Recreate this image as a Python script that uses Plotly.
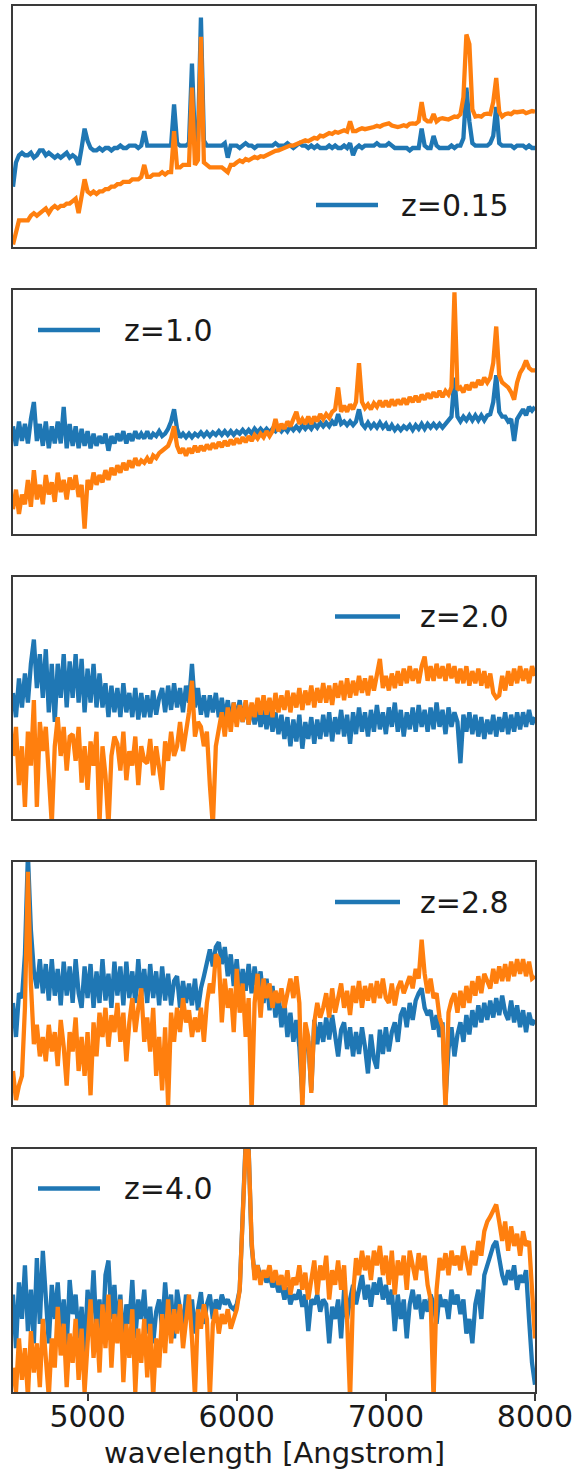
import plotly.graph_objects as go

# Shared wavelength grid (Angstrom) and per-panel flux values (in % of panel height)
WAVELENGTH = list(range(4500, 8001, 20))
LABELS = ["z=0.15", "z=1.0", "z=2.0", "z=2.8", "z=4.0"]
X_TICKS = [5000, 6000, 7000, 8000]
X_TITLE = "wavelength [Angstrom]"

P1_BLUE = [
    25, 35, 38, 39, 38,
    38, 39, 37, 38, 40,
    40, 38, 39, 38, 37,
    38, 37, 38, 39, 37,
    38, 37, 34, 41, 49,
    44, 41, 40, 40, 41,
    40, 41, 41, 40, 41,
    41, 42, 41, 41, 42,
    42, 42, 41, 42, 48,
    42, 42, 42, 42, 42,
    42, 42, 42, 42, 59,
    43, 42, 42, 42, 43,
    76, 43, 44, 95, 44,
    42, 42, 42, 42, 42,
    42, 43, 37, 42, 42,
    42, 41, 42, 43, 42,
    42, 41, 42, 42, 42,
    42, 42, 42, 43, 42,
    42, 42, 43, 42, 41,
    42, 43, 42, 42, 41,
    42, 41, 42, 41, 41,
    41, 42, 41, 42, 41,
    41, 42, 41, 43, 38,
    41, 42, 41, 42, 42,
    42, 42, 43, 42, 42,
    42, 43, 42, 41, 41,
    41, 41, 41, 40, 41,
    41, 41, 49, 42, 41,
    41, 46, 42, 41, 41,
    41, 41, 42, 41, 42,
    42, 45, 66, 52, 43,
    42, 42, 42, 42, 42,
    43, 46, 58, 43, 42,
    42, 42, 42, 41, 42,
    42, 42, 41, 42, 41,
    41,
]
P1_ORANGE = [
    1, 7, 11, 11, 11,
    11, 13, 14, 13, 14,
    15, 16, 14, 16, 17,
    16, 17, 17, 18, 18,
    19, 20, 14, 22, 28,
    23, 22, 23, 22, 23,
    23, 24, 24, 25, 25,
    26, 26, 27, 27, 27,
    28, 28, 28, 29, 34,
    29, 29, 30, 30, 30,
    31, 30, 31, 31, 48,
    33, 33, 34, 34, 34,
    66, 34, 36, 87, 35,
    34, 33, 33, 33, 33,
    33, 32, 31, 34, 34,
    35, 35.8, 35.2, 36.4, 35.9,
    36.5, 37.3, 36.8, 37.6, 37.4,
    38, 38.7, 38.9, 39.8, 40,
    40.5, 41.2, 41.3, 42.1, 42,
    42.5, 43.2, 43.3, 44.2, 43.8,
    44.5, 45.2, 44.9, 46.1, 45.8,
    46.5, 47.2, 46.8, 47.7, 47.3,
    48, 48.3, 47.8, 52, 48,
    48, 48.7, 49.2, 48.8, 49.1,
    49, 49.7, 50.2, 49.8, 50.5,
    51, 51.2, 50.3, 50, 49.7,
    50, 50.4, 50, 51, 51.2,
    51, 52, 60, 53, 52,
    52, 55, 52, 53, 53.3,
    53, 52.8, 53.4, 54, 53.8,
    55, 62, 88, 84, 57,
    54, 54.3, 54, 55, 55.2,
    55, 60, 70, 56, 54,
    55, 55.3, 55, 56, 55.8,
    56, 56.2, 55.4, 56, 56.3,
    56,
]

P2_BLUE = [
    44, 36, 46, 38, 45,
    37, 47, 54, 38, 45,
    36, 46, 35, 44, 37,
    46, 37, 52, 35, 45,
    36, 44, 35, 43, 36,
    42, 35, 41, 36, 40,
    37, 41, 34, 40, 37,
    41, 38, 42, 37, 41,
    38, 42, 39, 41, 39,
    42, 39, 41, 40, 42,
    40, 41, 43, 46, 51,
    43, 39.5, 41, 39.5, 41,
    39.5, 41, 40, 41.5, 40,
    41.5, 40, 41.5, 40.5, 42,
    40.5, 42, 40.5, 42, 40.5,
    42, 41, 42.5, 41, 42.5,
    41, 43, 41.5, 43, 41.5,
    43, 41.5, 43, 42, 43.5,
    42, 43.5, 42, 44, 42.5,
    44, 42.5, 44.5, 43, 44.5,
    43, 45, 43.5, 45.5, 44,
    45.5, 44, 46, 44.5, 49,
    45, 46, 44.5, 46, 44.5,
    46, 51, 45, 43.5, 45.5,
    43.5, 45, 43.5, 45.5, 43.5,
    45, 42.5, 44.5, 42.5, 44,
    42.5, 44, 43, 44.5, 42.5,
    44.5, 43, 45, 43, 45,
    43.5, 45, 43.5, 45, 43.5,
    45, 46, 48, 64, 48,
    46, 48, 46.5, 48.5, 46.5,
    48.5, 46.5, 48.5, 46.5, 48.5,
    49, 54, 65, 50, 48,
    48, 46, 47, 38, 47,
    49, 51, 48.5, 52, 50.5,
    52,
]
P2_ORANGE = [
    10, 18, 8, 16, 12,
    22, 11, 26, 14, 20,
    12, 24, 16, 21, 13,
    25, 17, 22, 14, 23,
    18, 24, 15, 20, 2,
    22, 18, 25, 20, 24,
    21, 26, 22, 27, 24,
    28, 25, 29, 26, 30,
    27, 31, 28, 30, 29,
    31, 29, 32, 31, 33,
    34, 35, 36, 39, 44,
    36, 33, 35, 32, 35,
    33, 36, 33.5, 36, 34,
    36.5, 34.5, 37, 35, 37.5,
    35.5, 38, 36, 38.5, 36.5,
    39, 37, 39.5, 37.5, 40,
    38, 40.5, 39, 41, 39.5,
    42, 40, 42, 47, 42,
    45, 43, 46, 44, 47,
    50, 45, 47, 45, 48,
    45, 48, 46, 49, 47,
    49, 47.5, 50, 51, 60,
    50, 52.5, 50, 53, 51,
    54, 70, 54, 51.5, 53,
    51, 53.5, 52, 54.5, 52,
    54.5, 52, 55, 52.5, 55,
    53, 55.5, 53, 56, 54,
    56.5, 54, 57, 55, 57.5,
    55.5, 58, 56, 58.5, 56,
    58.5, 57, 60, 99, 59,
    60, 58, 61, 59, 62,
    60, 63, 61, 64, 62,
    64, 70, 85, 65, 62,
    61, 60, 58, 55, 62,
    66, 68, 71, 68, 67,
    67,
]

P3_BLUE = [
    52, 42, 58, 46, 60,
    48, 64, 74, 54, 68,
    50, 70, 44, 64, 40,
    64, 50, 68, 46, 65,
    50, 68, 48, 66, 44,
    62, 48, 64, 46, 60,
    46, 56, 42, 55, 44,
    54, 42, 56, 44, 52,
    42, 54, 41, 52, 42,
    51, 42, 53, 43, 50,
    54, 44, 55, 45, 56,
    46, 54, 44, 55, 48,
    64, 46, 54, 43, 51,
    42, 51, 44, 52, 42,
    50, 41, 49, 40, 48,
    41, 49, 40, 48, 39,
    47, 39, 46, 38, 45,
    37, 45, 36, 44, 35,
    43, 33, 42, 30, 41,
    32, 43, 29, 40, 33,
    42, 31, 41, 33, 43,
    34, 44, 32, 42, 35,
    45, 34, 43, 31, 44,
    35, 46, 36, 44, 34,
    45, 36, 47, 37, 44,
    35, 46, 38, 48, 36,
    45, 34, 44, 37, 46,
    36, 47, 38, 45, 36,
    46, 37, 48, 38, 45,
    35, 46, 38, 44, 40,
    23, 43, 36, 44, 35,
    43, 34, 42, 33, 41,
    35, 43, 34, 42, 36,
    44, 35, 43, 36, 44,
    37, 44, 38, 45, 39,
    42,
]
P3_ORANGE = [
    26, 38, 14, 30, 5,
    36, 22, 49, 5, 40,
    28, 38, 18, -2, 30,
    42, 26, 38, 20, 34,
    35, 24, 38, 15, 30,
    12, 32, 22, 36, -2,
    30, 18, -3, 26, 34,
    31, 20, 36, 16, 28,
    22, 34, 14, 30, 24,
    23, 33, 18, 30, 20,
    12, 32, 24, 36, 26,
    30, 40, 28, 36, 44,
    57, 34, 40, 38, 30,
    36, 14, -3, 30, 38,
    44, 34, 46, 36, 48,
    38, 47, 40, 49, 39,
    48, 42, 50, 43, 51,
    43, 50, 42, 52, 44,
    51, 45, 53, 44, 52,
    46, 54, 45, 53, 47,
    55, 46, 54, 48, 56,
    48, 55, 47, 56, 50,
    57, 49, 58, 50, 57,
    51, 59, 52, 58, 51,
    59, 53, 60, 66, 54,
    59, 53, 60, 54, 61,
    55, 62, 56, 63, 57,
    62, 56, 63, 67, 57,
    63, 57, 64, 58, 63,
    57, 64, 58, 63, 56,
    62, 56, 63, 55, 61,
    56, 62, 55, 61, 54,
    60, 52, 50, 51, 59,
    53, 61, 55, 62, 56,
    63, 57, 62, 56, 63,
    59,
]

P4_BLUE = [
    42, 28, 46, 44, 62,
    103, 72, 55, 48, 60,
    46, 58, 43, 60, 45,
    56, 41, 59, 45, 57,
    42, 60, 46, 40, 57,
    44, 58, 40, 55, 42,
    60, 43, 54, 40, 59,
    45, 57, 41, 59, 44,
    55, 42, 60, 45, 56,
    42, 58, 44, 55, 41,
    57, 43, 54, 41, 51,
    53, 40, 51, 42, 50,
    41, 52, 39, 48, 53,
    58, 64, 57, 65, 67,
    58, 65, 53, 62, 49,
    60, 46, 56, 47, 58,
    46, 57, 48, 55, 42,
    52, 39, 49, 36, 46,
    32, 42, 28, 38, 26,
    35, 24, 3, 30, 26,
    6, 35, 25, 34, 26,
    36, 27, 37, 28, 20,
    31, 34, 23, 32, 20,
    30, 21, 32, 24, 13,
    29, 19, 15, 31, 21,
    32, 22, 30, 34, 26,
    37, 40, 32, 42, 35,
    43, 46, 48, 40, 37,
    39, 31, 37, 28, 34,
    2, 23, 32, 20, 29,
    34, 26, 37, 29, 39,
    32, 41, 34, 42, 35,
    43, 36, 44, 37, 45,
    38, 35, 43, 34, 41,
    32, 39, 30, 38, 33,
    35,
]
P4_ORANGE = [
    14, 2, 8, 12, 40,
    96, 50, 25, 33, 20,
    28, 18, 33, 22, 30,
    16, 35, 24, 8, 30,
    22, 36, 14, 28, 12,
    30, 4, 34, 20, 38,
    28, 40, 24, 37, 30,
    42, 26, 38, 18, 34,
    44, 30, 40, 48, 26,
    36, 22, 40, 12, 28,
    6, 32, 0, 38, 26,
    40, 30, 44, 34, 39,
    28, 36, 30, 40, 26,
    42, 50, 46, 62, 60,
    34, 52, 40, 48, 30,
    56, 38, 50, 28, 44,
    -2, 42, 54, 36, 52,
    44, 50, 40, 47, 42,
    48, 40, 46, 52, 44,
    53, 42, -2, 34, 28,
    5, 34, 42, 36, 40,
    46, 36, 48, 38, 44,
    50, 40, 47, 37, 49,
    42, 51, 40, 49, 43,
    50, 42, 51, 44, 52,
    44, 42, 50, 41, 48,
    51, 46, 50, 53, 48,
    56, 52, 68, 54, 46,
    52, 44, 46, 36, 32,
    -2, 38, 43, 46, 38,
    47, 40, 49, 42, 51,
    45, 53, 46, 54, 51,
    48, 56, 50, 57, 51,
    58, 51, 59, 53, 60,
    54, 60, 53, 59, 52,
    53,
]

P5_BLUE = [
    40, 18, 45, 30, 52,
    25, 42, 20, 55, 28,
    58, 35, 20, 44, 30,
    45, 25, 38, 18, 46,
    32, 40, 22, 35, 15,
    42, 28, 50, 24, 38,
    20, 48, 54, 30, 44,
    25, 40, 18, 36, 28,
    46, 22, 38, 30, 42,
    24, 35, 20, 33, 38,
    26, 45, 30, 40, 22,
    42, 35, 26, 40, 30,
    38, 24, 34, 41, 28,
    36, 40, 30, 38, 34,
    40, 36, 38, 35, 34,
    36, 42, 75, 103, 100,
    60, 48, 52, 47, 49,
    45, 48, 43, 46, 41,
    44, 38, 43, 36, 40,
    38, 42, 35, 40, 25,
    38, 36, 40, 33, 38,
    36, 20, 35, 30, 38,
    22, 42, 30, 38, 44,
    36, 42, 48, 38, 44,
    35, 45, 40, 47, 38,
    44, 36, 42, 25, 40,
    30, 38, 22, 36, 42,
    34, 40, 30, 38, 33,
    40, 36, 28, 40, 35,
    38, 30, 42, 36, 40,
    32, 38, 24, 30, 20,
    36, 42, 30, 48, 52,
    56, 60, 62, 55, 48,
    44, 50, 46, 52, 42,
    48, 45, 50, 30, 12,
    3,
]
P5_ORANGE = [
    10, 0, 22, 5, 18,
    -2, 25, 8, 20, 2,
    30, 12, -2, 22, 10,
    35, 15, 28, 2, 24,
    12, 30, 5, 26, 0,
    20, 38, 14, 30, 8,
    36, 18, 40, 10, 32,
    20, 38, 4, 28, 14,
    34, 0, 26, 12, 30,
    6, 28, -2, 22, 10,
    32, 16, 38, 20, 34,
    24, 36, 18, 30, 40,
    22, -2, 34, 26, 36,
    30, -2, 28, 34, 24,
    32, 28, 34, 26, 30,
    34, 42, 72, 101, 99,
    62, 46, 52, 44, 50,
    47, 52, 45, 50, 44,
    48, 42, 50, 40, 47,
    44, 52, 42, 49, 38,
    46, 54, 40, 52, 46,
    56, 38, 50, 44, 54,
    42, 52, 30, -3, 40,
    55, 48, 58, 50, 56,
    46, 58, 52, 60, 48,
    56, 44, 58, 40, 54,
    48, 56, 42, 58, 52,
    46, 57, 50, 56, 44,
    38, -3, 42, 55, 50,
    57, 48, 58, 52, 56,
    50, 60, 54, 48, 58,
    52, 62, 56, 66, 70,
    72, 75, 77, 70, 62,
    70, 58, 68, 60, 65,
    56, 66, 60, 62, 40,
    22,
]

BLUE_SERIES = [P1_BLUE, P2_BLUE, P3_BLUE, P4_BLUE, P5_BLUE]
ORANGE_SERIES = [P1_ORANGE, P2_ORANGE, P3_ORANGE, P4_ORANGE, P5_ORANGE]
for s in BLUE_SERIES + ORANGE_SERIES:
    assert len(s) == len(WAVELENGTH), len(s)

BLUE = "#1f77b4"
ORANGE = "#ff7f0e"
FRAME = "#3a3a3a"
TEXT = "#1a1a1a"
FONT = "DejaVu Sans"
FS = 30
LW = 4.3

W, H = 587, 1476
ML, MR, MT, MB = 13, 52, 5, 84
PH = H - MT - MB
# panel pixel extents (top, bottom) from page top
PANELS = [(5.5, 247), (290, 533.5), (576.5, 819), (862, 1105), (1148.5, 1392)]
PLOT_BOTTOM = H - MB

fig = go.Figure()
for i, (b, o) in enumerate(zip(BLUE_SERIES, ORANGE_SERIES)):
    sfx = "" if i == 0 else str(i + 1)
    fig.add_trace(go.Scatter(x=WAVELENGTH, y=b, mode="lines",
                             line=dict(color=BLUE, width=LW),
                             xaxis="x" + sfx, yaxis="y" + sfx, showlegend=False,
                             hoverinfo="skip"))
    fig.add_trace(go.Scatter(x=WAVELENGTH, y=o, mode="lines",
                             line=dict(color=ORANGE, width=LW),
                             xaxis="x" + sfx, yaxis="y" + sfx, showlegend=False,
                             hoverinfo="skip"))
    top, bot = PANELS[i]
    dom = [max(0.0, (PLOT_BOTTOM - bot) / PH), min(1.0, (PLOT_BOTTOM - top) / PH)]
    last = i == 4
    xa = dict(domain=[0, 1], range=[4500, 8000], anchor="y" + sfx,
              showline=True, mirror=True, linecolor=FRAME, linewidth=1.6,
              showgrid=False, zeroline=False,
              tickvals=X_TICKS if last else [],
              ticks="outside" if last else "", ticklen=7, tickwidth=1.6, tickcolor=FRAME,
              showticklabels=last, ticklabelstandoff=-10 if last else 0,
              tickfont=dict(family=FONT, size=FS, color=TEXT))
    if i != 0:
        xa["matches"] = "x"
    ya = dict(domain=dom, range=[0, 100], anchor="x" + sfx,
              showline=True, mirror=True, linecolor=FRAME, linewidth=1.6,
              showgrid=False, zeroline=False, showticklabels=False, ticks="")
    fig.layout["xaxis" + sfx] = xa
    fig.layout["yaxis" + sfx] = ya

    # legend (blue handle + label), positioned in axis-domain coordinates
    pw = 522.0
    phh = bot - top
    if i in (1, 4):          # upper left
        lx0, lx1 = (38 - 13) / pw, (100 - 13) / pw
        tx, anchor = (122 - 13) / pw, "left"
        ly = 1 - 40 / phh
    elif i in (2, 3):        # upper right
        lx0, lx1 = (335 - 13) / pw, (400 - 13) / pw
        tx, anchor = (511 - 13) / pw, "right"
        ly = 1 - 40 / phh
    else:                    # lower right
        lx0, lx1 = (316 - 13) / pw, (378 - 13) / pw
        tx, anchor = (511 - 13) / pw, "right"
        ly = 42 / phh
    fig.add_shape(type="line", xref="x" + sfx + " domain", yref="y" + sfx + " domain",
                  x0=lx0, x1=lx1, y0=ly, y1=ly, line=dict(color=BLUE, width=LW))
    fig.add_annotation(xref="x" + sfx + " domain", yref="y" + sfx + " domain",
                       x=tx, y=ly, xanchor=anchor, yanchor="middle", showarrow=False,
                       text=LABELS[i], font=dict(family=FONT, size=FS, color=TEXT))

# x-axis title of the bottom panel
fig.add_annotation(xref="x5 domain", yref="paper", x=0.5, y=(PLOT_BOTTOM - 1453) / PH,
                   xanchor="center", yanchor="middle", showarrow=False,
                   text=X_TITLE, font=dict(family=FONT, size=29, color=TEXT))

fig.update_layout(width=W, height=H, margin=dict(l=ML, r=MR, t=MT, b=MB),
                  paper_bgcolor="white", plot_bgcolor="white",
                  showlegend=False)
fig.write_html("out.html")
